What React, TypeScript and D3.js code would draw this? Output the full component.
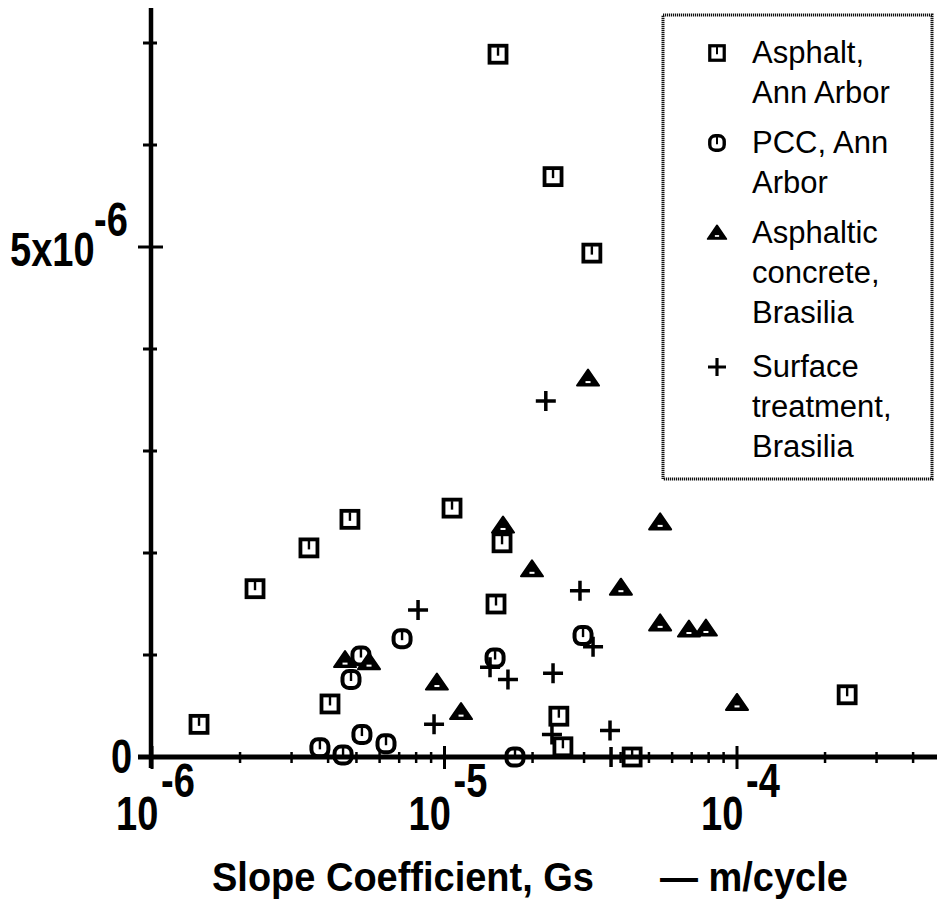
import React from "react";
import * as d3 from "d3";

// Asphalt, Ann Arbor (squares)
const asphaltX = [1.524e-5, 2.35e-5, 3.19e-5, 1.448e-6, 2.25e-6, 3.44e-6, 4.75e-6, 1.061e-5, 1.573e-5, 1.5e-5, 4.06e-6, 2.46e-5, 2.54e-5, 4.38e-5, 2.38e-4];
const asphaltY = [6.89e-6, 5.69e-6, 4.94e-6, 0.32e-6, 1.65e-6, 2.05e-6, 2.33e-6, 2.44e-6, 2.1e-6, 1.5e-6, 0.52e-6, 0.4e-6, 0.1e-6, 0.0, 0.61e-6];

// PCC, Ann Arbor (rounded circles)
const pccX = [5.18e-6, 4.79e-6, 7.16e-6, 3.75e-6, 4.5e-6, 5.22e-6, 6.31e-6, 1.489e-5, 2.976e-5, 1.742e-5];
const pccY = [0.99e-6, 0.76e-6, 1.16e-6, 0.09e-6, 0.02e-6, 0.22e-6, 0.13e-6, 0.97e-6, 1.19e-6, 0.0];

// Asphaltic concrete, Brasilia (triangles)
const acX = [3.095e-5, 1.585e-5, 1.991e-5, 4.01e-5, 5.46e-5, 5.46e-5, 6.85e-5, 7.83e-5, 1.0e-4, 4.57e-6, 5.52e-6, 9.42e-6, 1.139e-5];
const acY = [3.71e-6, 2.27e-6, 1.84e-6, 1.66e-6, 2.3e-6, 1.31e-6, 1.25e-6, 1.26e-6, 0.53e-6, 0.95e-6, 0.93e-6, 0.73e-6, 0.44e-6];

// Surface treatment, Brasilia (plus)
const stX = [2.22e-5, 8.12e-6, 2.905e-5, 3.22e-5, 1.648e-5, 2.35e-5, 9.21e-6, 1.431e-5, 2.33e-5, 3.68e-5, 3.71e-5];
const stY = [3.49e-6, 1.44e-6, 1.63e-6, 1.08e-6, 0.76e-6, 0.82e-6, 0.32e-6, 0.88e-6, 0.22e-6, 0.26e-6, 0.0];

const yTickValues = [0, 1e-6, 2e-6, 3e-6, 4e-6, 5e-6, 6e-6, 7e-6];
const xMajorTicks = [1e-6, 1e-5, 1e-4];
const xMajorExp = ["-6", "-5", "-4"];
const legendLabels = [
  ["Asphalt,", "Ann Arbor"],
  ["PCC, Ann", "Arbor"],
  ["Asphaltic", "concrete,", "Brasilia"],
  ["Surface", "treatment,", "Brasilia"],
];
const xTitleA = "Slope Coefficient, Gs";
const xTitleB = "— m/cycle";

const FONT = "'Liberation Sans', Arial, Helvetica, sans-serif";

const Square = ({ x, y, s = 1 }: { x: number; y: number; s?: number }) => (
  <g transform={`translate(${x},${y}) scale(${s})`}>
    <rect x={-8.5} y={-8.5} width={17} height={17} fill="#fff" stroke="#000" strokeWidth={3.8} />
    <path d="M0,-7 V1.5" fill="none" stroke="#000" strokeWidth={2.4} />
  </g>
);
const Circ = ({ x, y, s = 1 }: { x: number; y: number; s?: number }) => (
  <g transform={`translate(${x},${y}) scale(${s})`}>
    <rect x={-8.5} y={-8.5} width={17} height={17} rx={6.5} fill="#fff" stroke="#000" strokeWidth={4} />
    <path d="M0,-7 V1.5" fill="none" stroke="#000" strokeWidth={2.4} />
  </g>
);
const Tri = ({ x, y, s = 1 }: { x: number; y: number; s?: number }) => (
  <g transform={`translate(${x},${y}) scale(${s})`}>
    <path d="M0,-9 L11,7 L-11,7 Z" fill="#000" stroke="#000" strokeWidth={2} strokeLinejoin="round" />
    <rect x={-2.5} y={2.5} width={5} height={2} fill="#fff" />
  </g>
);
const Plus = ({ x, y, s = 1 }: { x: number; y: number; s?: number }) => (
  <g transform={`translate(${x},${y}) scale(${s})`}>
    <path d="M-10,0 H10 M0,-10 V10" stroke="#000" strokeWidth={3.5} />
  </g>
);

const TallText = ({ x, y, children, sy = 1.25 }: { x: number; y: number; children: React.ReactNode; sy?: number }) => (
  <text transform={`translate(${x},${y}) scale(1,${sy})`}>{children}</text>
);

export default function App() {
  const W = 937;
  const H = 901;
  const x = d3.scaleLog().domain([1e-6, 1e-4]).range([152, 737]);
  const y = d3.scaleLinear().domain([0, 5e-6]).range([757, 247]);
  const xEnd = 937;
  const xMax = x.invert(xEnd);
  const minorTicks = d3
    .scaleLog()
    .domain([1e-6, xMax])
    .ticks()
    .filter((t) => !xMajorTicks.some((m) => Math.abs(m - t) / m < 1e-6));

  const legendX = 663;
  const legendY = 15;
  const legendW = 269;
  const legendH = 464;
  const groupStarts = [63, 153, 243, 377];
  const lineGap = 40;

  return (
    <svg
      width={W}
      height={H}
      style={{ position: "absolute", left: 0, top: 0, background: "#fff" }}
      fontFamily={FONT}
    >
      <rect x={0} y={0} width={W} height={H} fill="#fff" />
      {/* markers */}
      <g>
        {pccX.map((v, i) => (
          <Circ key={"c" + i} x={x(v)} y={y(pccY[i])} />
        ))}
        {asphaltX.map((v, i) => (
          <Square key={"s" + i} x={x(v)} y={y(asphaltY[i])} />
        ))}
        {acX.map((v, i) => (
          <Tri key={"t" + i} x={x(v)} y={y(acY[i])} />
        ))}
        {stX.map((v, i) => (
          <Plus key={"p" + i} x={x(v)} y={y(stY[i])} />
        ))}
      </g>
      {/* axes */}
      <g stroke="#000">
        <line x1={151} x2={151} y1={8} y2={768} strokeWidth={4.5} />
        <line x1={138} x2={xEnd} y1={y(0)} y2={y(0)} strokeWidth={5} />
        {yTickValues.slice(1).map((t) => (
          <line
            key={"yt" + t}
            x1={t === 5e-6 ? 138 : 143}
            x2={t === 5e-6 ? 163 : 157}
            y1={y(t)}
            y2={y(t)}
            strokeWidth={3}
          />
        ))}
        {minorTicks.map((t, i) => (
          <line key={"mx" + i} x1={x(t)} x2={x(t)} y1={752} y2={763} strokeWidth={2.5} />
        ))}
        {xMajorTicks.map((t) => (
          <line key={"Mx" + t} x1={x(t)} x2={x(t)} y1={746} y2={769} strokeWidth={3} />
        ))}
      </g>
      {/* tick labels */}
      <g fontWeight="bold" fontSize={38} fill="#000">
        {xMajorTicks.map((t, i) => (
          <g key={"xl" + t}>
            <TallText x={x(t) - 36} y={830}>10</TallText>
            <TallText x={x(t) + 9} y={797}>{xMajorExp[i]}</TallText>
          </g>
        ))}
        <TallText x={10} y={266}>5x10</TallText>
        <TallText x={94} y={236}>-6</TallText>
        <TallText x={111} y={773}>0</TallText>
        <TallText x={212} y={891} sy={1.08}>{xTitleA}</TallText>
        <TallText x={660} y={891} sy={1.08}>{xTitleB}</TallText>
      </g>
      {/* legend */}
      <rect
        x={legendX}
        y={legendY}
        width={legendW}
        height={legendH}
        fill="none"
        stroke="#111"
        strokeWidth={3}
        strokeDasharray="1.2 0.8"
      />
      <g fontSize={31} fill="#000">
        {legendLabels.map((lines, gi) =>
          lines.map((ln, li) => (
            <TallText key={gi + "-" + li} x={752} y={groupStarts[gi] + li * lineGap} sy={1.0}>
              {ln}
            </TallText>
          ))
        )}
      </g>
      <Square x={717} y={groupStarts[0] - 10} s={0.85} />
      <Circ x={717} y={groupStarts[1] - 10} s={0.85} />
      <Tri x={717} y={groupStarts[2] - 10} s={0.85} />
      <Plus x={717} y={groupStarts[3] - 10} s={0.9} />
    </svg>
  );
}
